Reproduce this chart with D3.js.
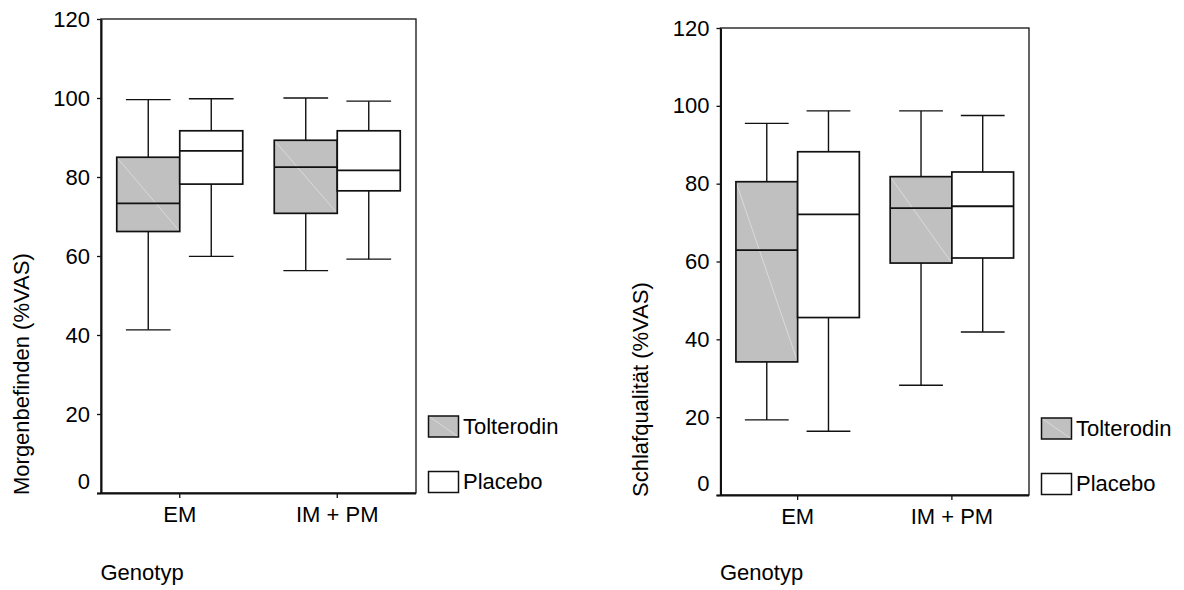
<!DOCTYPE html>
<html>
<head>
<meta charset="utf-8">
<script src="https://cdn.jsdelivr.net/npm/d3@7"></script>
<style>
  html, body { margin: 0; padding: 0; background: #fff; }
  svg { display: block; }
  text { font-family: "Liberation Sans", Arial, sans-serif; fill: #000; }
</style>
</head>
<body>
<svg id="chart" width="1184" height="590"></svg>
<script>
// ---- Data ----
const categories = ["EM", "IM + PM"];
const seriesNames = ["Tolterodin", "Placebo"];
const yTicks = [0, 20, 40, 60, 80, 100, 120];

// [whisker low, Q1, median, Q3, whisker high] per category
const tolterodinMorgen = [[41.3, 66.2, 73.3, 85.0, 99.6], [56.3, 70.8, 82.5, 89.3, 100.0]];
const placeboMorgen    = [[59.9, 78.2, 86.6, 91.7, 99.8], [59.2, 76.5, 81.7, 91.7, 99.2]];
const tolterodinSchlaf = [[19.3, 34.2, 62.9, 80.5, 95.5], [28.2, 59.6, 73.7, 81.8, 98.7]];
const placeboSchlaf    = [[16.4, 45.6, 72.1, 88.2, 98.7], [41.9, 60.9, 74.2, 83.0, 97.5]];

const seriesFill = ["#c0c0c0", "#ffffff"];

const panels = [
  { title: "Morgenbefinden (%VAS)", data: [tolterodinMorgen, placeboMorgen],
    x0: 101, x1: 416, y0: 19, y1: 493 },
  { title: "Schlafqualität (%VAS)", data: [tolterodinSchlaf, placeboSchlaf],
    x0: 720.5, x1: 1029, y0: 28, y1: 495 }
];

const svg = d3.select("#chart");
svg.append("rect").attr("width", 1184).attr("height", 590).attr("fill", "#fff");

const FS = 22;
const lineCol = "#111";

panels.forEach(p => {
  const g = svg.append("g");
  const x = d3.scaleBand().domain(categories).range([p.x0, p.x1]).padding(0);
  const y = d3.scaleLinear().domain([0, 120]).range([p.y1, p.y0]);
  const bw = x.bandwidth();
  const xs = d3.scaleBand().domain(seriesNames).range([-0.4 * bw, 0.4 * bw]).padding(0);
  const boxW = xs.bandwidth();
  const capW = boxW * 0.71;

  // frame (top & right thin)
  g.append("rect")
    .attr("x", p.x0).attr("y", p.y0)
    .attr("width", p.x1 - p.x0).attr("height", p.y1 - p.y0)
    .attr("fill", "none").attr("stroke", lineCol).attr("stroke-width", 1.3);

  // boxes
  seriesNames.forEach((s, si) => {
    const vals = p.data[si];
    categories.forEach((c, ci) => {
      const [lo, q1, med, q3, hi] = vals[ci];
      const bx = x(c) + bw / 2 + xs(s);
      const cx = bx + boxW / 2;
      const bg = g.append("g");
      // whiskers
      bg.append("line").attr("x1", cx).attr("x2", cx).attr("y1", y(q3)).attr("y2", y(hi))
        .attr("stroke", lineCol).attr("stroke-width", 1.4);
      bg.append("line").attr("x1", cx).attr("x2", cx).attr("y1", y(q1)).attr("y2", y(lo))
        .attr("stroke", lineCol).attr("stroke-width", 1.4);
      bg.append("line").attr("x1", cx - capW / 2).attr("x2", cx + capW / 2).attr("y1", y(hi)).attr("y2", y(hi))
        .attr("stroke", lineCol).attr("stroke-width", 1.4);
      bg.append("line").attr("x1", cx - capW / 2).attr("x2", cx + capW / 2).attr("y1", y(lo)).attr("y2", y(lo))
        .attr("stroke", lineCol).attr("stroke-width", 1.4);
      // box
      bg.append("rect").attr("x", bx).attr("y", y(q3)).attr("width", boxW).attr("height", y(q1) - y(q3))
        .attr("fill", seriesFill[si]).attr("stroke", "none");
      if (si === 0) {
        bg.append("line").attr("x1", bx).attr("y1", y(q3)).attr("x2", bx + boxW).attr("y2", y(q1))
          .attr("stroke", "#dadada").attr("stroke-width", 1);
      }
      bg.append("rect").attr("x", bx).attr("y", y(q3)).attr("width", boxW).attr("height", y(q1) - y(q3))
        .attr("fill", "none").attr("stroke", lineCol).attr("stroke-width", 1.7);
      // median
      bg.append("line").attr("x1", bx).attr("x2", bx + boxW).attr("y1", y(med)).attr("y2", y(med))
        .attr("stroke", lineCol).attr("stroke-width", 1.8);
    });
  });

  // y axis
  const ya = g.append("g").attr("transform", `translate(${p.x0},0)`)
    .call(d3.axisLeft(y).tickValues(yTicks).tickFormat(d3.format("d")).tickSize(4).tickSizeOuter(0).tickPadding(7));
  ya.select(".domain").attr("stroke", lineCol).attr("stroke-width", 2);
  ya.selectAll(".tick line").attr("stroke", lineCol).attr("stroke-width", 1.3);
  ya.selectAll(".tick text").attr("font-size", FS).attr("font-family", "Liberation Sans, Arial, sans-serif").attr("fill", "#000")
    .attr("dy", d => d === 0 ? "-0.2em" : "0.32em");

  // x axis
  const xa = g.append("g").attr("transform", `translate(0,${p.y1})`)
    .call(d3.axisBottom(x).tickSize(5).tickSizeOuter(0).tickPadding(8));
  xa.select(".domain").attr("stroke", lineCol).attr("stroke-width", 2)
    .attr("d", `M${p.x0 - 4},0.5H${p.x1}`);
  xa.selectAll(".tick line").attr("stroke", lineCol).attr("stroke-width", 1.3);
  xa.selectAll(".tick text").attr("font-size", FS).attr("font-family", "Liberation Sans, Arial, sans-serif").attr("fill", "#000");

  // y title
  g.append("text")
    .attr("transform", `translate(${p.x0 - 72.5},${p.y1 + 2}) rotate(-90)`)
    .attr("text-anchor", "start")
    .attr("font-size", FS)
    .text(p.title);

  // x title
  g.append("text")
    .attr("x", p.x0 - 0.5).attr("y", 580)
    .attr("font-size", FS)
    .text("Genotyp");

  // legend
  const lx = p.x1 + 12.5;
  const legY = [p.y1 - 77, p.y1 - 21.5];
  seriesNames.forEach((s, si) => {
    const ly = legY[si];
    g.append("rect").attr("x", lx).attr("y", ly).attr("width", 30).attr("height", 21)
      .attr("fill", seriesFill[si]).attr("stroke", "none");
    if (si === 0) {
      g.append("line").attr("x1", lx).attr("y1", ly).attr("x2", lx + 30).attr("y2", ly + 21)
        .attr("stroke", "#dadada").attr("stroke-width", 1);
    }
    g.append("rect").attr("x", lx).attr("y", ly).attr("width", 30).attr("height", 21)
      .attr("fill", "none").attr("stroke", lineCol).attr("stroke-width", 1.5);
    g.append("text").attr("x", lx + 34.5).attr("y", ly + 17.5)
      .attr("font-size", FS).text(s);
  });
});
</script>
</body>
</html>
